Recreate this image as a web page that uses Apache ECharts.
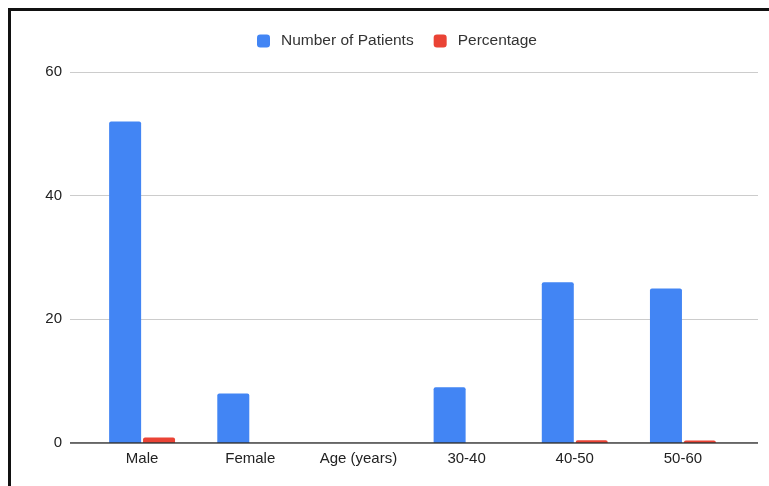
<!DOCTYPE html>
<html>
<head>
<meta charset="utf-8">
<script src="https://cdn.jsdelivr.net/npm/echarts@6/dist/echarts.min.js"></script>
<style>
html,body{margin:0;padding:0;background:#fff;}
#frame{position:absolute;left:8px;top:8px;width:761px;height:478px;border-top:3px solid #111;border-left:3px solid #111;box-sizing:border-box;}
#chart{position:absolute;left:0;top:0;width:769px;height:486px;}
</style>
</head>
<body>
<div id="chart"></div>
<div id="frame"></div>
<script>
const categories = ['Male', 'Female', 'Age (years)', '30-40', '40-50', '50-60'];
const patients = [52, 8, null, 9, 26, 25];
const percentage = [0.87, 0, null, 0, 0.43, 0.42];
const yTicks = [0, 20, 40, 60];

const chart = echarts.init(document.getElementById('chart'), null, {renderer: 'canvas'});
const font = 'Arial, "Liberation Sans", sans-serif';
const option = {
  animation: false,
  backgroundColor: '#fff',
  legend: {
    top: 33,
    left: 257,
    itemWidth: 13,
    itemHeight: 13,
    itemGap: 20,
    icon: 'roundRect',
    padding: 0,
    textStyle: {fontFamily: font, fontSize: 15.5, color: '#333', padding: [0, 0, 0, 6]},
    data: ['Number of Patients', 'Percentage']
  },
  grid: [
    {left: 70, right: 11, top: 72, bottom: 43},
    {left: 88, right: 32, top: 72, bottom: 43}
  ],
  xAxis: [
    {gridIndex: 0, type: 'value', min: 0, max: 1, show: true,
     axisLine: {show: false}, axisTick: {show: false}, axisLabel: {show: false}, splitLine: {show: false}},
    {gridIndex: 1, type: 'category', data: categories,
     axisLine: {show: false}, axisTick: {show: false},
     axisLabel: {fontFamily: font, fontSize: 15, color: '#222', margin: 8}}
  ],
  yAxis: [
    {gridIndex: 0, type: 'value', min: yTicks[0], max: yTicks[yTicks.length - 1], interval: 20,
     axisLine: {show: false}, axisTick: {show: false},
     axisLabel: {fontFamily: font, fontSize: 15, color: '#222', margin: 8},
     splitLine: {lineStyle: {color: '#cccccc', width: 1}}},
    {gridIndex: 1, type: 'value', min: yTicks[0], max: yTicks[yTicks.length - 1], interval: 20, show: false}
  ],
  series: [
    {name: 'Number of Patients', type: 'bar', xAxisIndex: 1, yAxisIndex: 1, data: patients,
     barWidth: 32, barGap: '6%', itemStyle: {color: '#4285F4', borderRadius: [2, 2, 0, 0]}},
    {name: 'Percentage', type: 'bar', xAxisIndex: 1, yAxisIndex: 1, data: percentage,
     barWidth: 32, barGap: '6%', itemStyle: {color: '#EA4335', borderRadius: [2, 2, 0, 0]}},
    {type: 'line', xAxisIndex: 0, yAxisIndex: 0, data: [[0, 0], [1, 0]], symbol: 'none',
     lineStyle: {color: '#333', width: 1.5}, silent: true, z: 5, legendHoverLink: false, tooltip: {show: false}}
  ]
};
chart.setOption(option);
</script>
</body>
</html>
